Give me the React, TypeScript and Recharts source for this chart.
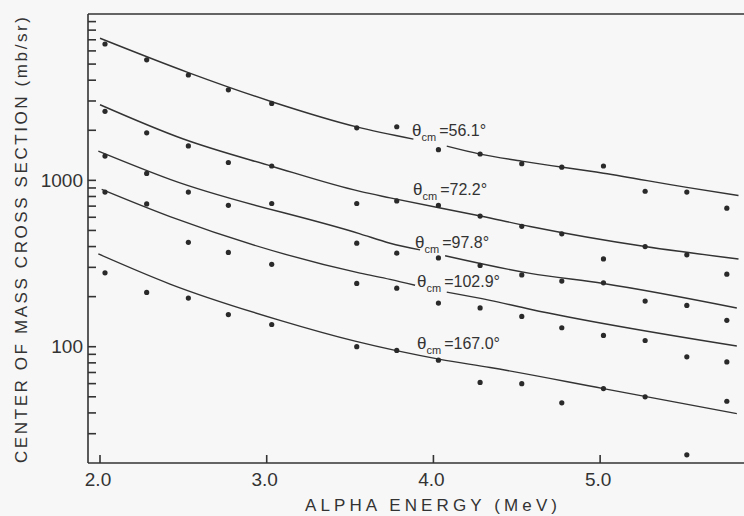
import React from 'react';
import {
  ComposedChart,
  Line,
  Scatter,
  XAxis,
  YAxis,
  ReferenceLine,
  ReferenceDot,
} from 'recharts';

// ---- measured data (alpha energy in MeV, cross section in mb/sr) ----
const energies = [2.03, 2.28, 2.53, 2.77, 3.03, 3.54, 3.78, 4.03, 4.28, 4.53, 4.77, 5.02, 5.27, 5.52, 5.76];

const sigma561 = [6600, 5300, 4300, 3500, 2900, 2070, 2100, 1530, 1440, 1260, 1200, 1220, 860, 850, 680];
const sigma722 = [2600, 1930, 1610, 1280, 1220, 726, 752, 707, 610, 529, 477, 337, 400, 357, 273];
const sigma978 = [1400, 1100, 850, 708, 726, 419, 365, 342, 308, 270, 248, 242, 188, 177, 144];
const sigma1029 = [850, 722, 424, 369, 313, 240, 225, 183, 171, 152, 130, 117, 109, 87, 81];
const sigma1670 = [278, 212, 196, 156, 136, 100, 95, 83, 61, 60, 46, 56, 50, 22.4, 47];

// ---- fitted curves (null = gap behind the label) ----
const fit561E = [2.0, 2.53, 3.03, 3.54, 3.88, 3.98, 4.08, 4.28, 4.53, 5.02, 5.52, 5.83];
const fit561V = [7150, 4446, 2970, 2096, 1770, null, 1606, 1438, 1304, 1103, 907, 811];

const fit722E = [2.0, 2.5, 3.03, 3.56, 3.74, 4.29, 4.58, 5.27, 5.83];
const fit722V = [2848, 1772, 1216, 858, 785, 608, 528, 400, 337];

const fit978E = [1.99, 2.42, 3.56, 3.74, 3.92, 4.0, 4.07, 4.58, 5.02, 5.82];
const fit978V = [1499, 1014, 477, 419, 382, null, 352, 276, 240, 171];

const fit1029E = [2.01, 2.42, 3.56, 3.74, 3.89, 3.98, 4.08, 4.34, 4.58, 5.82];
const fit1029V = [882, 605, 277, 254, 234, null, 213, 190, 168, 101];

const fit1670E = [1.99, 2.42, 3.08, 3.53, 4.04, 4.34, 5.02, 5.82];
const fit1670V = [361, 238, 144, 108, 84, 75, 56, 39.6];

// ---- curve labels: angle text and anchor (energy, cross section) ----
const labelAngles = ['56.1', '72.2', '97.8', '102.9', '167.0'];
const labelE = [3.872, 3.878, 3.89, 3.902, 3.902];
const labelV = [1848, 822, 393, 228, 97.2];

// ---- axes ----
const xTicks = [2.0, 3.0, 4.0, 5.0];
const yTicks = [
  30, 40, 50, 60, 70, 80, 90, 100, 200, 300, 400, 500, 600, 700, 800, 900,
  1000, 2000, 3000, 4000, 5000, 6000, 7000, 8000, 9000,
];
const yLabelled = [100, 1000];
const xDomain = [1.928, 5.863];
const yDomain = [20, 10000];

const INK = '#333333';
const FONT = '"Liberation Sans", Arial, sans-serif';

const toPts = (E: number[], V: (number | null)[]) => E.map((e, i) => ({ x: e, y: V[i] }));
const measured = (V: number[]) => energies.map((e, i) => ({ x: e, y: V[i] }));

// tick-mark positions placed on the axes through the chart's own scales
const yTickMarks = yTicks.map((v) => ({ x: xDomain[0], y: v }));
const xTickMarks = xTicks.map((t) => ({ x: t, y: yDomain[0] }));

const Dot = (p: any) => {
  if (p.cx == null || p.cy == null) return null;
  return <circle cx={p.cx} cy={p.cy} r={2.6} fill="#2a2a2a" />;
};

const YMark = (p: any) => {
  if (p.cx == null || p.cy == null) return null;
  return <path d={`M${p.cx},${p.cy}h8`} stroke={INK} strokeWidth={1.6} fill="none" />;
};

const XMark = (p: any) => {
  if (p.cx == null || p.cy == null) return null;
  return <path d={`M${p.cx},${p.cy}v-8`} stroke={INK} strokeWidth={1.6} fill="none" />;
};

const YTick = (p: any) => {
  const { x, y, payload } = p;
  const v = payload.value;
  if (!yLabelled.includes(v)) return <g />;
  return (
    <text x={x - 11} y={y} dy={6.5} textAnchor="end" fill={INK} fontFamily={FONT} fontSize={19}>
      {String(v)}
    </text>
  );
};

const XTick = (p: any) => {
  const { x, y, payload } = p;
  return (
    <text x={x - 2} y={y + 29} textAnchor="middle" fill={INK} fontFamily={FONT} fontSize={19}>
      {Number(payload.value).toFixed(1)}
    </text>
  );
};

const curveLabel = (deg: string) => (p: any) => {
  const vb = p.viewBox || {};
  const x = (vb.x ?? 0) + (vb.width ?? 0) / 2;
  const y = (vb.y ?? 0) + (vb.height ?? 0) / 2;
  return (
    <text x={x} y={y} fill={INK} fontFamily={FONT} fontSize={16}>
      <tspan fontSize={17}>θ</tspan>
      <tspan fontSize={11} dy={5}>cm</tspan>
      <tspan dy={-5} dx={3}>{'=' + deg + '°'}</tspan>
    </text>
  );
};

const yTitle = () => (
  <text
    transform="translate(21,240) rotate(-90)"
    textAnchor="middle"
    dominantBaseline="central"
    fill={INK}
    fontFamily={FONT}
    fontSize={17}
    textLength={446}
    lengthAdjust="spacing"
  >
    CENTER OF MASS CROSS SECTION (mb/sr)
  </text>
);

const xTitle = () => (
  <text
    x={431}
    y={505}
    textAnchor="middle"
    dominantBaseline="central"
    fill={INK}
    fontFamily={FONT}
    fontSize={17}
    textLength={252}
    lengthAdjust="spacing"
  >
    ALPHA ENERGY (MeV)
  </text>
);

const fits = [
  toPts(fit561E, fit561V),
  toPts(fit722E, fit722V),
  toPts(fit978E, fit978V),
  toPts(fit1029E, fit1029V),
  toPts(fit1670E, fit1670V),
];
const series = [sigma561, sigma722, sigma978, sigma1029, sigma1670].map(measured);

export default function App() {
  return (
    <div style={{ position: 'absolute', left: 0, top: 0, width: 744, height: 516, background: '#f7f7f7' }}>
      <ComposedChart width={744} height={516} margin={{ top: 14, right: 0, bottom: 0, left: 0 }}>
        <XAxis
          type="number"
          dataKey="x"
          domain={xDomain}
          allowDataOverflow
          ticks={xTicks}
          interval={0}
          height={53}
          tickSize={-6}
          tickMargin={0}
          tickLine={false}
          axisLine={{ stroke: INK, strokeWidth: 1.6 }}
          tick={<XTick />}
          label={{ content: xTitle }}
        />
        <YAxis
          type="number"
          dataKey="y"
          scale="log"
          domain={yDomain}
          allowDataOverflow
          ticks={yTicks}
          interval={0}
          width={88}
          tickSize={-6}
          tickMargin={0}
          tickLine={false}
          axisLine={{ stroke: INK, strokeWidth: 1.6 }}
          tick={<YTick />}
          label={{ content: yTitle }}
        />
        <ReferenceLine y={10000} stroke={INK} strokeWidth={1.6} ifOverflow="visible" />
        <Scatter data={yTickMarks} dataKey="y" shape={<YMark />} isAnimationActive={false} />
        <Scatter data={xTickMarks} dataKey="y" shape={<XMark />} isAnimationActive={false} />
        {fits.map((d, i) => (
          <Line
            key={'fit' + i}
            data={d}
            dataKey="y"
            type="monotone"
            stroke={INK}
            strokeWidth={1.4}
            dot={false}
            activeDot={false}
            connectNulls={false}
            isAnimationActive={false}
          />
        ))}
        {series.map((d, i) => (
          <Scatter key={'pts' + i} data={d} dataKey="y" shape={<Dot />} isAnimationActive={false} />
        ))}
        {labelAngles.map((a, i) => (
          <ReferenceDot
            key={'lab' + i}
            x={labelE[i]}
            y={labelV[i]}
            r={1}
            fill="none"
            stroke="none"
            label={curveLabel(a)}
          />
        ))}
      </ComposedChart>
    </div>
  );
}
